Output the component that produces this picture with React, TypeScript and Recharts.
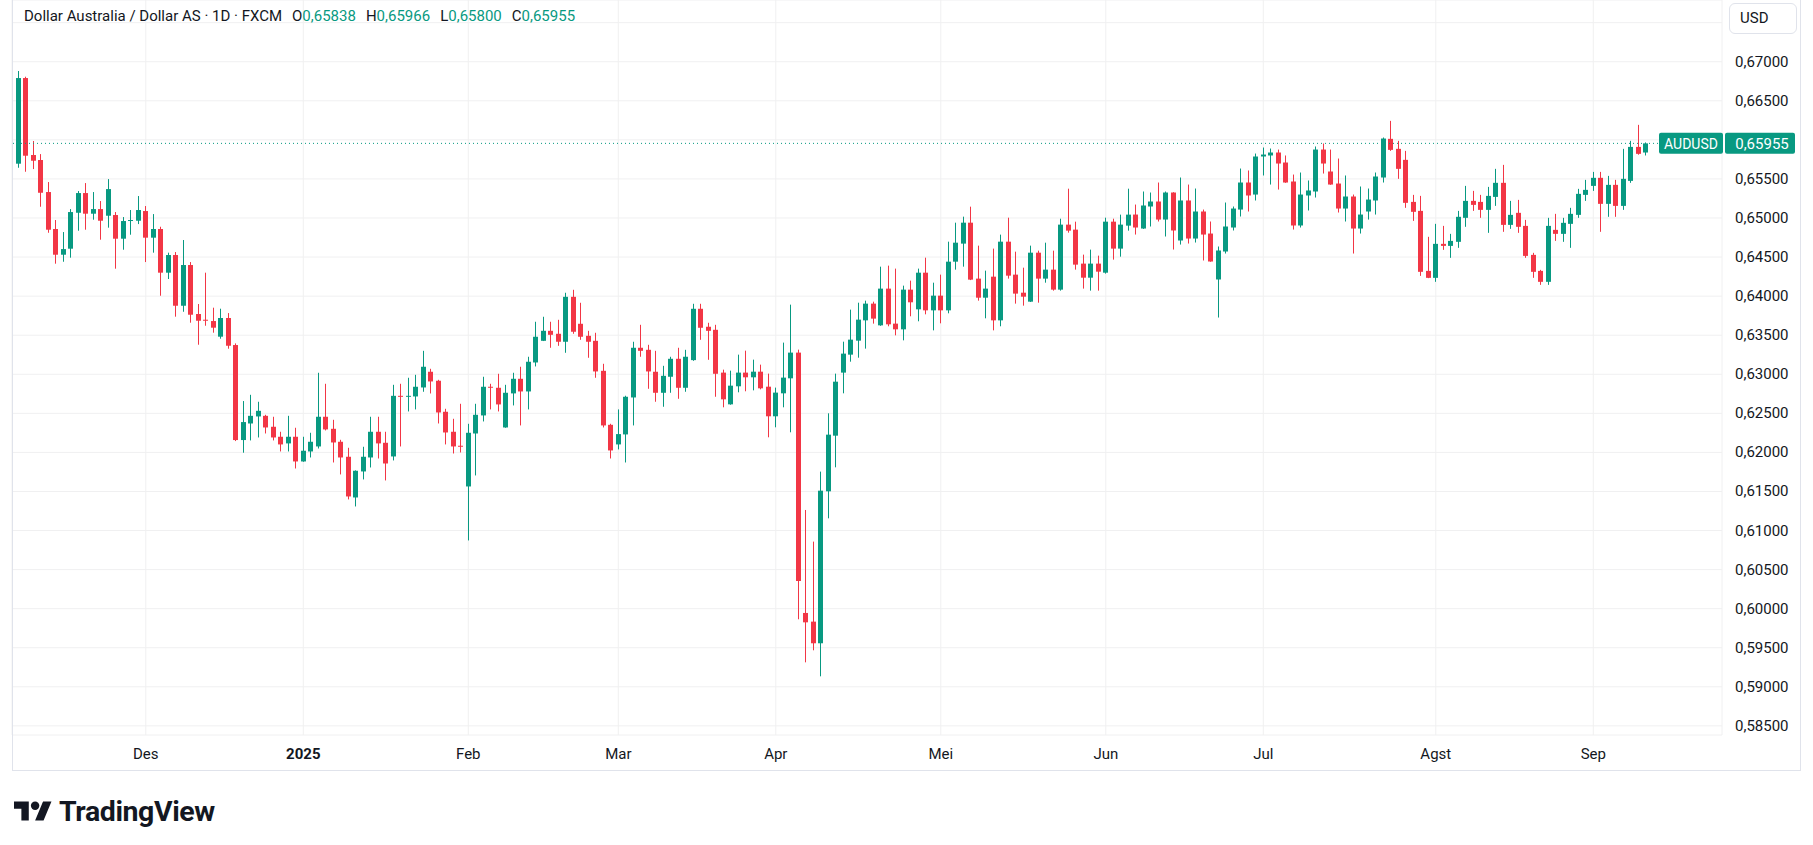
import React from 'react';
import { ComposedChart, Bar, XAxis, YAxis, CartesianGrid, ReferenceLine } from 'recharts';

// AUDUSD daily candles, 7 Nov 2024 .. 10 Sep 2025 (FXCM)
const opens = [
  0.65695, 0.66791, 0.65806, 0.65742, 0.65332, 0.64859, 0.6453, 0.64607, 0.65067, 0.65319,
  0.65055, 0.65114, 0.65029, 0.65038, 0.64735, 0.64965, 0.64965, 0.65089, 0.64748, 0.64859,
  0.643, 0.64526, 0.63877, 0.64398, 0.63771, 0.63698, 0.63681, 0.63481, 0.6372, 0.63374,
  0.62158, 0.6237, 0.6246, 0.62468, 0.62328, 0.622, 0.62115, 0.622, 0.61884, 0.62012,
  0.62076, 0.62456, 0.62302, 0.62136, 0.61944, 0.61423, 0.61756, 0.61935, 0.62264, 0.62123,
  0.61948, 0.62724, 0.62716, 0.62716, 0.62831, 0.63032, 0.62917, 0.6252, 0.62264, 0.62085,
  0.61564, 0.62242, 0.62473, 0.6284, 0.62827, 0.62319, 0.62755, 0.62942, 0.6278, 0.63151,
  0.63428, 0.63556, 0.63518, 0.63416, 0.63991, 0.63646, 0.63492, 0.63428, 0.63044, 0.62353,
  0.62102, 0.6223, 0.62703, 0.63339, 0.63313, 0.63032, 0.62763, 0.62968, 0.63198, 0.62827,
  0.63181, 0.63838, 0.63608, 0.63569, 0.63021, 0.62615, 0.62846, 0.63021, 0.62961, 0.63033,
  0.62841, 0.62462, 0.62756, 0.62948, 0.63277, 0.59945, 0.59834, 0.59557, 0.61502, 0.62214,
  0.63021, 0.63251, 0.6343, 0.6369, 0.63904, 0.63626, 0.64096, 0.63648, 0.63575, 0.64083,
  0.63831, 0.643, 0.63818, 0.64006, 0.63818, 0.64441, 0.64672, 0.6494, 0.64224, 0.6398,
  0.64249, 0.6369, 0.64697, 0.64275, 0.64044, 0.63929, 0.64556, 0.64224, 0.64339, 0.64083,
  0.64915, 0.64851, 0.64416, 0.64236, 0.64416, 0.643, 0.64953, 0.64608, 0.64902, 0.65044,
  0.64865, 0.65147, 0.65211, 0.6498, 0.65326, 0.64712, 0.65224, 0.64737, 0.65083, 0.64801,
  0.64213, 0.64571, 0.64878, 0.65108, 0.65454, 0.653, 0.65787, 0.658, 0.65838, 0.6571,
  0.65467, 0.64904, 0.65288, 0.65339, 0.65876, 0.65595, 0.65441, 0.65121, 0.65275, 0.64865,
  0.65083, 0.65224, 0.65518, 0.66013, 0.65885, 0.65744, 0.65206, 0.65091, 0.64323, 0.64234,
  0.64669, 0.64643, 0.64695, 0.65002, 0.65219, 0.65206, 0.65104, 0.6527, 0.6545, 0.64912,
  0.65066, 0.64899, 0.64528, 0.64323, 0.64183, 0.64848, 0.64797, 0.64925, 0.6504, 0.65296,
  0.65411, 0.65514, 0.65181, 0.65424, 0.65155, 0.65475, 0.6591, 0.65838,
];
const highs = [
  0.66881, 0.66808, 0.65985, 0.65818, 0.6546, 0.64974, 0.6482, 0.65114, 0.65345, 0.65447,
  0.65332, 0.65217, 0.65498, 0.65076, 0.65012, 0.65102, 0.65281, 0.65153, 0.6505, 0.64888,
  0.64556, 0.64564, 0.64718, 0.64436, 0.63899, 0.643, 0.63852, 0.63839, 0.63783, 0.63395,
  0.62657, 0.62737, 0.62648, 0.62481, 0.62456, 0.62264, 0.62468, 0.62315, 0.622, 0.62251,
  0.63019, 0.62878, 0.62417, 0.62161, 0.62059, 0.6177, 0.62072, 0.62456, 0.62456, 0.62264,
  0.62865, 0.62878, 0.62955, 0.62993, 0.633, 0.6307, 0.62929, 0.62558, 0.6243, 0.62622,
  0.62366, 0.62622, 0.62968, 0.62878, 0.63006, 0.62865, 0.63019, 0.63096, 0.63224, 0.63672,
  0.63736, 0.63672, 0.63697, 0.64043, 0.64081, 0.63915, 0.63556, 0.63531, 0.63134, 0.62366,
  0.6255, 0.62725, 0.63416, 0.63633, 0.63377, 0.633, 0.63108, 0.63224, 0.63339, 0.63313,
  0.63902, 0.63902, 0.63659, 0.63633, 0.63059, 0.63046, 0.63251, 0.63302, 0.63187, 0.63123,
  0.63008, 0.62829, 0.63405, 0.63891, 0.63315, 0.61263, 0.60858, 0.61754, 0.625, 0.63008,
  0.63417, 0.63827, 0.63916, 0.63942, 0.63929, 0.64377, 0.6439, 0.64352, 0.64134, 0.64198,
  0.64352, 0.64492, 0.64172, 0.64275, 0.64697, 0.6494, 0.65017, 0.65145, 0.64646, 0.64326,
  0.64608, 0.64787, 0.65004, 0.64569, 0.64364, 0.64646, 0.64582, 0.64684, 0.64582, 0.64991,
  0.65375, 0.64953, 0.64531, 0.64595, 0.64518, 0.65004, 0.64991, 0.65043, 0.65375, 0.65172,
  0.65339, 0.65326, 0.65454, 0.65339, 0.6533, 0.65518, 0.65428, 0.65377, 0.65108, 0.64955,
  0.64635, 0.65198, 0.65147, 0.65633, 0.65608, 0.65825, 0.65902, 0.65889, 0.65876, 0.658,
  0.65556, 0.65582, 0.6548, 0.65915, 0.65953, 0.65876, 0.65761, 0.65544, 0.653, 0.65403,
  0.65377, 0.65582, 0.6603, 0.66243, 0.65987, 0.65859, 0.65296, 0.65283, 0.64759, 0.64925,
  0.64899, 0.64797, 0.65091, 0.65411, 0.65347, 0.65296, 0.65398, 0.65629, 0.6568, 0.65219,
  0.65232, 0.64976, 0.64554, 0.64336, 0.65002, 0.65053, 0.65002, 0.6513, 0.65373, 0.65488,
  0.6559, 0.6559, 0.65539, 0.65488, 0.65885, 0.65987, 0.66192, 0.65966,
];
const lows = [
  0.65643, 0.65592, 0.65626, 0.65144, 0.64811, 0.64415, 0.6444, 0.64492, 0.64837, 0.6485,
  0.64978, 0.64722, 0.64876, 0.64351, 0.64594, 0.64786, 0.64922, 0.64436, 0.64556, 0.64005,
  0.64219, 0.63737, 0.638, 0.6366, 0.63378, 0.63621, 0.63532, 0.63455, 0.63327, 0.62145,
  0.61996, 0.62153, 0.62191, 0.62242, 0.62153, 0.62012, 0.62012, 0.61794, 0.6188, 0.61935,
  0.6205, 0.62281, 0.61871, 0.61718, 0.61398, 0.61308, 0.61654, 0.61807, 0.61922, 0.61641,
  0.61897, 0.62076, 0.62524, 0.6255, 0.62776, 0.62754, 0.6237, 0.62102, 0.61986, 0.61999,
  0.60873, 0.61705, 0.62396, 0.6255, 0.62524, 0.62315, 0.62601, 0.62345, 0.6255, 0.631,
  0.63425, 0.63339, 0.63364, 0.63275, 0.63518, 0.63441, 0.63211, 0.62955, 0.62319, 0.61922,
  0.62038, 0.61871, 0.62345, 0.63224, 0.62814, 0.62648, 0.62584, 0.62763, 0.62686, 0.62776,
  0.63172, 0.63441, 0.63185, 0.62712, 0.62577, 0.6261, 0.62769, 0.62782, 0.62794, 0.62807,
  0.62193, 0.62321, 0.62577, 0.62257, 0.59864, 0.59313, 0.59467, 0.59134, 0.61156, 0.61809,
  0.62756, 0.63161, 0.63212, 0.63328, 0.63648, 0.6362, 0.63614, 0.63498, 0.63434, 0.63742,
  0.63678, 0.63767, 0.63562, 0.63652, 0.6378, 0.64339, 0.64377, 0.64205, 0.63942, 0.63716,
  0.63562, 0.63614, 0.64224, 0.63904, 0.63878, 0.63925, 0.63916, 0.64172, 0.6407, 0.6407,
  0.64812, 0.64339, 0.64096, 0.6407, 0.6407, 0.64288, 0.64467, 0.64505, 0.64838, 0.64788,
  0.6486, 0.64891, 0.64955, 0.64763, 0.64596, 0.6466, 0.64673, 0.64686, 0.64456, 0.6444,
  0.63726, 0.64545, 0.6484, 0.65019, 0.65083, 0.65224, 0.65544, 0.65428, 0.65364, 0.6545,
  0.64852, 0.64878, 0.65096, 0.65262, 0.65569, 0.65425, 0.6507, 0.64955, 0.64545, 0.64801,
  0.6498, 0.65044, 0.65454, 0.65859, 0.65501, 0.6513, 0.64963, 0.64259, 0.6423, 0.64183,
  0.64592, 0.6449, 0.64618, 0.64887, 0.65091, 0.65002, 0.6481, 0.65155, 0.64823, 0.64861,
  0.6481, 0.6449, 0.64234, 0.64144, 0.64144, 0.64707, 0.64695, 0.64618, 0.65002, 0.65219,
  0.65347, 0.64823, 0.65015, 0.65015, 0.65104, 0.6545, 0.6581, 0.658,
];
const closes = [
  0.66791, 0.65797, 0.65733, 0.65323, 0.6485, 0.6453, 0.64602, 0.65076, 0.65319, 0.65055,
  0.65114, 0.64965, 0.6537, 0.64735, 0.64961, 0.64974, 0.65102, 0.64748, 0.64859, 0.643,
  0.64526, 0.63877, 0.64398, 0.63762, 0.63685, 0.63685, 0.63596, 0.6372, 0.63365, 0.62158,
  0.62388, 0.62468, 0.62532, 0.62319, 0.62191, 0.62102, 0.622, 0.61884, 0.62021, 0.62136,
  0.62456, 0.62294, 0.62127, 0.61935, 0.61436, 0.61765, 0.61944, 0.62264, 0.62115, 0.61858,
  0.62724, 0.62716, 0.62724, 0.6284, 0.63096, 0.62908, 0.62511, 0.62255, 0.62076, 0.62076,
  0.62251, 0.62481, 0.6284, 0.62832, 0.62614, 0.62763, 0.62942, 0.6278, 0.6316, 0.6348,
  0.63556, 0.63505, 0.63416, 0.63991, 0.63544, 0.6348, 0.63416, 0.63036, 0.62345, 0.62025,
  0.62234, 0.62712, 0.63339, 0.633, 0.63036, 0.62763, 0.6298, 0.63198, 0.62827, 0.63224,
  0.63838, 0.63595, 0.63556, 0.63006, 0.62679, 0.62854, 0.63021, 0.62961, 0.63033, 0.6282,
  0.62462, 0.62765, 0.62957, 0.63277, 0.60354, 0.59825, 0.59557, 0.6151, 0.62227, 0.62905,
  0.63264, 0.63443, 0.63699, 0.63904, 0.63712, 0.64096, 0.63639, 0.63575, 0.64083, 0.63921,
  0.643, 0.63818, 0.64006, 0.63818, 0.64441, 0.64684, 0.6494, 0.64211, 0.6398, 0.64096,
  0.6369, 0.64697, 0.64262, 0.64032, 0.63993, 0.64556, 0.64224, 0.64339, 0.64083, 0.64915,
  0.64838, 0.64403, 0.64236, 0.64416, 0.64313, 0.64953, 0.64608, 0.64915, 0.65043, 0.64878,
  0.6516, 0.65211, 0.6498, 0.65326, 0.6484, 0.65224, 0.64737, 0.65083, 0.64788, 0.64443,
  0.64584, 0.64891, 0.65121, 0.65454, 0.65288, 0.65787, 0.65812, 0.65838, 0.65697, 0.65454,
  0.64904, 0.653, 0.65352, 0.65876, 0.65697, 0.65428, 0.65121, 0.65275, 0.64865, 0.65044,
  0.65236, 0.65531, 0.66017, 0.65872, 0.65629, 0.65194, 0.65079, 0.64311, 0.64234, 0.64669,
  0.64643, 0.64707, 0.65015, 0.65219, 0.65168, 0.65104, 0.65283, 0.6545, 0.64912, 0.6504,
  0.64887, 0.64515, 0.64311, 0.64183, 0.64899, 0.64797, 0.64938, 0.65053, 0.65309, 0.6536,
  0.65514, 0.65181, 0.65424, 0.65155, 0.65501, 0.6591, 0.65821, 0.65955,
];

// bar numbers (1-based) where the month labels sit
const monthTicks = [18, 39, 61, 81, 102, 124, 146, 167, 190, 211];
const monthLabels = ['Des', '2025', 'Feb', 'Mar', 'Apr', 'Mei', 'Jun', 'Jul', 'Agst', 'Sep'];
const priceTicks = [
  0.585, 0.59, 0.595, 0.6, 0.605, 0.61, 0.615, 0.62, 0.625, 0.63,
  0.635, 0.64, 0.645, 0.65, 0.655, 0.66, 0.665, 0.67, 0.675,
];
const lastPrice = 0.65955;
const legendOHLC = [
  ['O', 0.65838],
  ['H', 0.65966],
  ['L', 0.658],
  ['C', 0.65955],
] as const;

const UP = '#089981';
const DOWN = '#F23645';
const TEXT = '#131722';
const GRID = '#f0f0f1';
const BORDER = '#e0e3eb';
const FONT = 'Roboto, "Noto Sans", sans-serif';

const data = opens.map((o, i) => ({
  idx: i + 1,
  o,
  h: highs[i],
  l: lows[i],
  c: closes[i],
  range: [lows[i], highs[i]],
}));

const fmt = (v: number) => v.toFixed(5).replace('.', ',');

const Candle = (props: any) => {
  const { x, y, width, height, payload } = props;
  if (x == null || y == null || !payload) return null;
  const { o, h, l, c } = payload;
  const color = c >= o ? UP : DOWN;
  const top = Math.min(y, y + height);
  const span = Math.abs(height);
  const px = (v: number) => top + ((h - v) / (h - l)) * span;
  const mid = Math.floor(x + width / 2);
  const bTop = px(Math.max(o, c));
  const bBot = px(Math.min(o, c));
  return (
    <g>
      <line x1={mid + 0.5} x2={mid + 0.5} y1={top} y2={top + span} stroke={color} strokeWidth={1} />
      <rect x={mid - 2} y={bTop} width={5} height={Math.max(1, bBot - bTop)} fill={color} />
    </g>
  );
};

const XTick = (props: any) => {
  const { x, payload } = props;
  const k = monthTicks.indexOf(payload.value);
  const label = monthLabels[k] ?? '';
  return (
    <text
      x={x}
      y={754}
      textAnchor="middle"
      dominantBaseline="central"
      fontFamily={FONT}
      fontSize={15}
      fontWeight={label === '2025' ? 700 : 400}
      fill={TEXT}
    >
      {label}
    </text>
  );
};

const YTick = (props: any) => {
  const { y, payload } = props;
  const v = payload.value;
  // 0,675 sits under the USD box and 0,660 under the last-price tag
  if (Math.abs(v - 0.675) < 1e-6 || Math.abs(v - 0.66) < 1e-6) return null;
  return (
    <text x={1735} y={y} dominantBaseline="central" fontFamily={FONT} fontSize={15} fill={TEXT}>
      {fmt(v)}
    </text>
  );
};

const PriceTag = (props: any) => {
  const vb = props.viewBox;
  if (!vb) return null;
  const right = vb.x + vb.width;
  const cy = vb.y;
  return (
    <g>
      <rect x={right - 63} y={cy - 10.5} width={64} height={21} rx={2} fill={UP} />
      <text x={right - 31} y={cy + 0.5} textAnchor="middle" dominantBaseline="central" fill="#fff" fontFamily={FONT} fontSize={14}>
        AUDUSD
      </text>
      <rect x={right + 3} y={cy - 10.5} width={70} height={21} rx={2} fill={UP} />
      <text x={right + 40} y={cy + 0.5} textAnchor="middle" dominantBaseline="central" fill="#fff" fontFamily={FONT} fontSize={15}>
        {fmt(lastPrice)}
      </text>
    </g>
  );
};

const Logo = () => (
  <div style={{ position: 'absolute', left: 14, top: 795, display: 'flex', alignItems: 'center' }}>
    <svg width={38} height={30} viewBox="0 0 36 28">
      <path d="M14 22H7V11H0V4h14v18zM28 22h-8l7.5-18h8L28 22z" fill={TEXT} />
      <circle cx={20} cy={8} r={4} fill={TEXT} />
    </svg>
    <span style={{ marginLeft: 7, fontFamily: FONT, fontSize: 28.5, fontWeight: 700, color: TEXT, letterSpacing: -0.4 }}>
      TradingView
    </span>
  </div>
);

export default function App() {
  return (
    <div style={{ position: 'absolute', left: 0, top: 0, width: 1813, height: 845, background: '#fff', overflow: 'hidden' }}>
      <ComposedChart width={1813} height={845} data={data} margin={{ top: 0, right: 13, bottom: 75, left: 12 }}>
        <CartesianGrid stroke={GRID} />
        <XAxis
          dataKey="idx"
          type="number"
          domain={[0.16, 228.16]}
          allowDataOverflow
          ticks={monthTicks}
          interval={0}
          tick={<XTick />}
          axisLine={false}
          tickLine={false}
          height={35}
        />
        <YAxis
          orientation="right"
          type="number"
          domain={[0.58383, 0.6779]}
          allowDataOverflow
          ticks={priceTicks}
          interval={0}
          tick={<YTick />}
          axisLine={false}
          tickLine={false}
          width={78}
        />
        <ReferenceLine y={lastPrice} stroke={UP} strokeDasharray="1 3" label={(p: any) => <PriceTag {...p} />} />
        <Bar dataKey="range" barSize={5} shape={<Candle />} isAnimationActive={false} />
      </ComposedChart>

      {/* chart frame */}
      <div
        style={{
          position: 'absolute',
          left: 12,
          top: -1,
          width: 1789,
          height: 772,
          border: `1px solid ${BORDER}`,
          boxSizing: 'border-box',
          pointerEvents: 'none',
        }}
      />

      {/* legend line */}
      <div style={{ position: 'absolute', left: 24, top: 7, fontFamily: FONT, fontSize: 15, lineHeight: '19px', color: TEXT, whiteSpace: 'nowrap' }}>
        <span>Dollar Australia / Dollar AS · 1D · FXCM</span>
        {legendOHLC.map(([k, v]) => (
          <span key={k} style={{ marginLeft: 10 }}>
            {k}
            <span style={{ color: UP }}>{fmt(v)}</span>
          </span>
        ))}
      </div>

      {/* currency button */}
      <div
        style={{
          position: 'absolute',
          left: 1729,
          top: 3,
          width: 68,
          height: 31,
          border: `1px solid ${BORDER}`,
          borderRadius: 6,
          boxSizing: 'border-box',
          background: '#fff',
          fontFamily: FONT,
          fontSize: 15,
          color: TEXT,
          lineHeight: '29px',
          paddingLeft: 10,
        }}
      >
        USD
      </div>

      <Logo />
    </div>
  );
}
